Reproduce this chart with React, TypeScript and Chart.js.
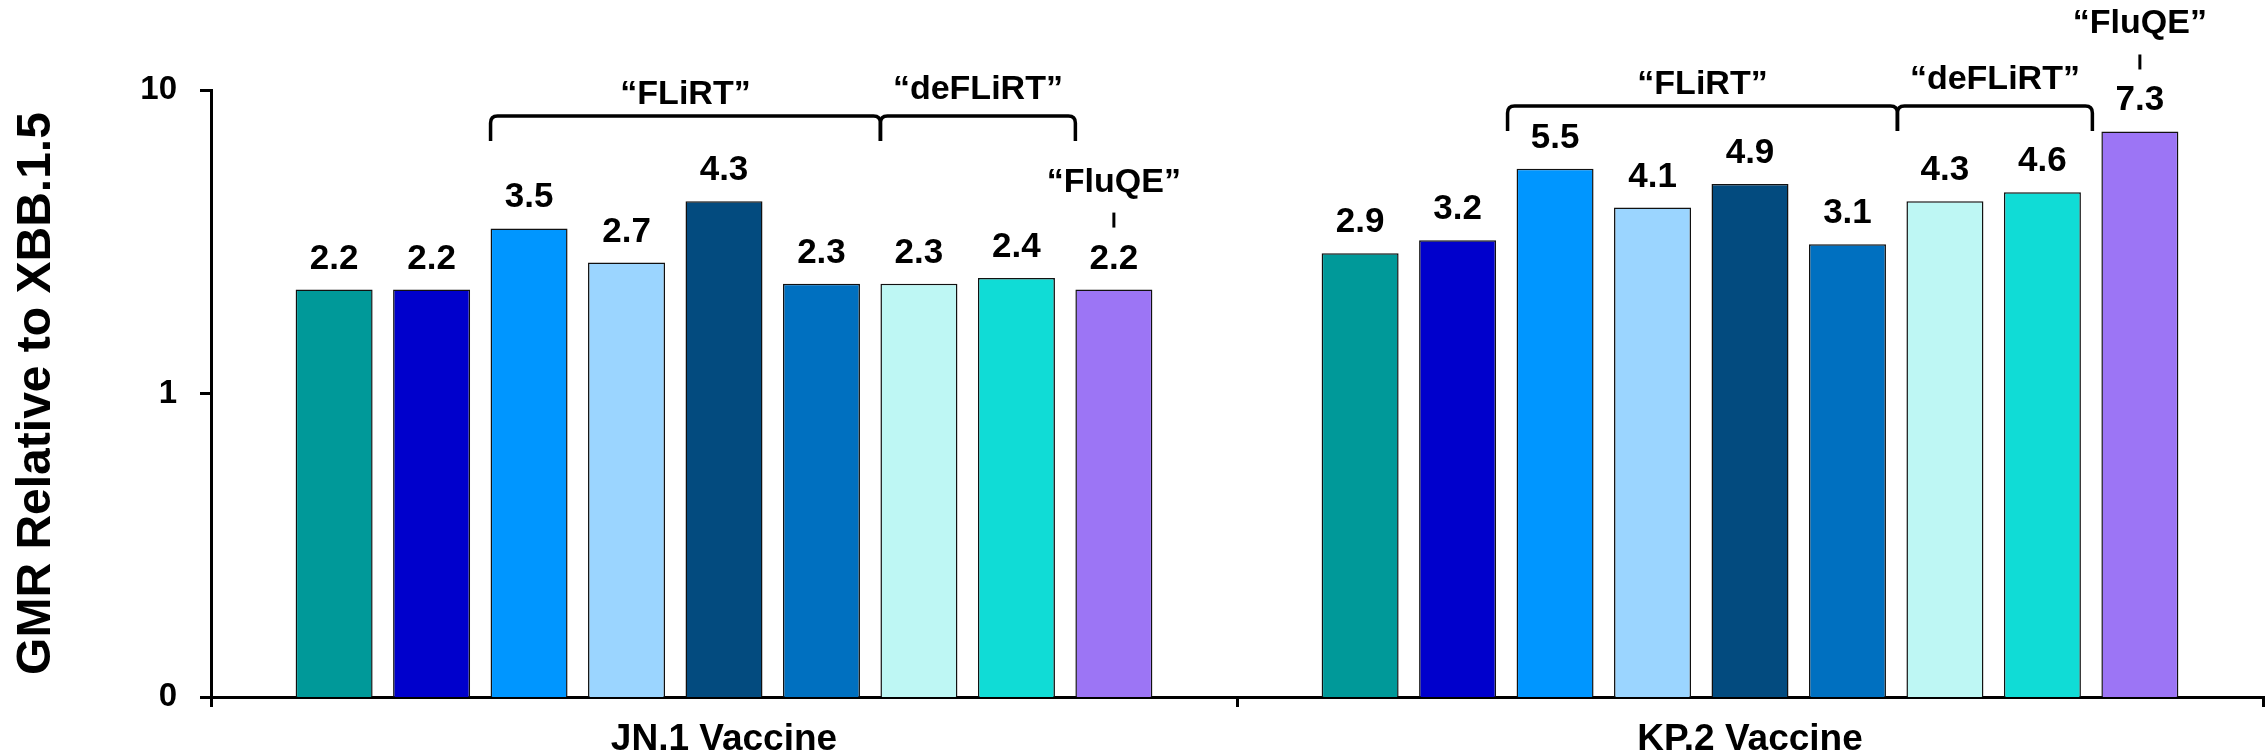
import React, { useEffect, useRef } from "react";
import { Chart, registerables } from "chart.js";

Chart.register(...registerables);

// ---------- data ----------
const categories = ["JN.1 Vaccine", "KP.2 Vaccine"];

const seriesNames = [
  "Variant 1",
  "Variant 2",
  "Variant 3",
  "Variant 4",
  "Variant 5",
  "Variant 6",
  "Variant 7",
  "Variant 8",
  "Variant 9",
];
const series1 = [2.2, 2.9];
const series2 = [2.2, 3.2];
const series3 = [3.5, 5.5];
const series4 = [2.7, 4.1];
const series5 = [4.3, 4.9];
const series6 = [2.3, 3.1];
const series7 = [2.3, 4.3];
const series8 = [2.4, 4.6];
const series9 = [2.2, 7.3];
const seriesValues = [series1, series2, series3, series4, series5, series6, series7, series8, series9];

const seriesColors = [
  "#009999",
  "#0000CC",
  "#0096FF",
  "#9BD5FF",
  "#034B7F",
  "#0070C0",
  "#BEF7F4",
  "#10DCD6",
  "#9C75F5",
];

const yTickValues = [0.1, 1, 10];
const yTickLabels = ["0", "1", "10"];
const yTitle = "GMR Relative to XBB.1.5";

// bracket annotations (spanning from left edge of bar "from" to left edge of bar "to")
const bracketLabels = ["\u201CFLiRT\u201D", "\u201CdeFLiRT\u201D"];
const bracketFrom = [2, 6];
const bracketTo = [6, 8];
const singleLabel = "\u201CFluQE\u201D";
const singleIndex = 8;

// ---------- styles ----------
const FONT = "'Liberation Sans', Arial, Helvetica, sans-serif";
const bracketDrop = [26, 16]; // bracket line below chart top, per category
const bracketShift = [0, -9];
const bracketTextGap = [12, 17];

const annotationPlugin = {
  id: "annotations",
  afterDatasetsDraw(chart: any) {
    const ctx = chart.ctx as CanvasRenderingContext2D;
    ctx.save();
    ctx.fillStyle = "#000";
    ctx.strokeStyle = "#000";
    ctx.textAlign = "center";
    ctx.textBaseline = "alphabetic";

    // value labels
    ctx.font = `bold 35px ${FONT}`;
    chart.data.datasets.forEach((ds: any, di: number) => {
      const meta = chart.getDatasetMeta(di);
      meta.data.forEach((bar: any, gi: number) => {
        const v = ds.data[gi] as number;
        ctx.fillText(v.toFixed(1), bar.x, bar.y - 21);
      });
    });

    // brackets
    categories.forEach((_, gi) => {
      const lineY = chart.chartArea.top + bracketDrop[gi];
      const arm = 25;
      const r = 7;
      bracketLabels.forEach((lab, bi) => {
        const a = chart.getDatasetMeta(bracketFrom[bi]).data[gi];
        const b = chart.getDatasetMeta(bracketTo[bi]).data[gi];
        const xL = a.x - a.width / 2 + bracketShift[gi];
        const xR = b.x - b.width / 2 + bracketShift[gi];
        ctx.lineWidth = 3.5;
        ctx.beginPath();
        ctx.moveTo(xL, lineY + arm);
        ctx.lineTo(xL, lineY + r);
        ctx.quadraticCurveTo(xL, lineY, xL + r, lineY);
        ctx.lineTo(xR - r, lineY);
        ctx.quadraticCurveTo(xR, lineY, xR, lineY + r);
        ctx.lineTo(xR, lineY + arm);
        ctx.stroke();
        ctx.font = `bold 34px ${FONT}`;
        ctx.fillText(lab, (xL + xR) / 2, lineY - bracketTextGap[bi]);
      });

      // single label over last bar
      const p = chart.getDatasetMeta(singleIndex).data[gi];
      const base = p.y - 21;
      ctx.lineWidth = 3;
      ctx.beginPath();
      ctx.moveTo(p.x, base - 56);
      ctx.lineTo(p.x, base - 41);
      ctx.stroke();
      ctx.font = `bold 34px ${FONT}`;
      ctx.fillText(singleLabel, p.x, base - 77);
    });
    ctx.restore();
  },
};

export default function App() {
  const canvasRef = useRef<HTMLCanvasElement | null>(null);

  useEffect(() => {
    if (!canvasRef.current) return;
    const chart = new Chart(canvasRef.current, {
      type: "bar",
      data: {
        labels: categories,
        datasets: seriesValues.map((vals, i) => ({
          label: seriesNames[i],
          data: vals,
          backgroundColor: seriesColors[i],
          borderColor: "#111",
          borderWidth: 1.5,
          categoryPercentage: 0.855,
          barPercentage: 0.79,
        })),
      },
      options: {
        responsive: false,
        animation: false,
        layout: { padding: { top: 90, right: 3, left: 0, bottom: 0 } },
        plugins: {
          legend: { display: false },
          tooltip: { enabled: false },
        },
        scales: {
          x: {
            afterFit: (axis: any) => {
              axis.height = 59;
            },
            ticks: {
              font: { size: 37, weight: "bold", family: FONT },
              color: "#000",
              padding: 11,
            },
            grid: {
              display: true,
              drawOnChartArea: false,
              drawTicks: true,
              tickLength: 10,
              color: "#000",
              lineWidth: 3,
              offset: true,
            },
            border: { display: true, color: "#000", width: 3 },
          },
          y: {
            type: "logarithmic",
            min: 0.1,
            max: 10,
            afterBuildTicks: (axis: any) => {
              axis.ticks = yTickValues.map((v) => ({ value: v }));
            },
            afterFit: (axis: any) => {
              axis.width = 211;
            },
            ticks: {
              autoSkip: false,
              callback: (_v: any, idx: number) => yTickLabels[idx],
              font: { size: 33, weight: "bold", family: FONT },
              color: "#000",
              padding: 23,
            },
            grid: {
              display: true,
              drawOnChartArea: false,
              drawTicks: true,
              tickLength: 11,
              color: "#000",
              lineWidth: 3,
            },
            border: { display: true, color: "#000", width: 3 },
            title: {
              display: true,
              text: yTitle,
              color: "#000",
              font: { size: 48, weight: "bold", family: FONT },
              padding: { top: 8, bottom: 0 },
            },
          },
        },
      },
      plugins: [annotationPlugin],
    } as any);
    return () => chart.destroy();
  }, []);

  return (
    <div style={{ position: "absolute", left: 0, top: 0, width: 2266, height: 756, background: "#fff" }}>
      <canvas ref={canvasRef} width={2266} height={756} style={{ display: "block" }} />
    </div>
  );
}
